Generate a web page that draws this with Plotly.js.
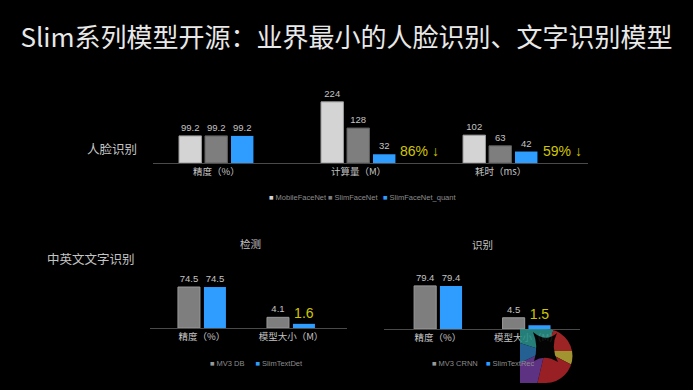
<!DOCTYPE html>
<html><head><meta charset="utf-8">
<script src="https://cdn.plot.ly/plotly-3.0.1.min.js"></script>
<style>html,body{margin:0;padding:0;background:#000;}#chart{width:693px;height:390px;}</style>
</head><body><div id="chart"></div>
<script>
// ---- data ----
const faceCats = ['精度（%）', '计算量（M）', '耗时（ms）'];
const faceSeries = ['MobileFaceNet', 'SlimFaceNet', 'SlimFaceNet_quant'];
const mobileFaceNet = [99.2, 224, 102];
const slimFaceNet = [99.2, 128, 63];
const slimFaceNetQuant = [99.2, 32, 42];
const faceReduction = ['86% ↓', '59% ↓'];

const textCats = ['精度（%）', '模型大小（M）'];
const detSeries = ['MV3 DB', 'SlimTextDet'];
const mv3Db = [74.5, 4.1];
const slimTextDet = [74.5, 1.6];
const recSeries = ['MV3 CRNN', 'SlimTextRec'];
const mv3Crnn = [79.4, 4.5];
const slimTextRec = [79.4, 1.5];

// ---- style ----
const FONT = 'Liberation Sans, Noto Sans CJK SC, sans-serif';
const CJK = 'Noto Sans CJK SC, Liberation Sans, sans-serif';
const LABEL = '#c4c4c4';
const YELLOW = '#d0c600';
const LIGHT = '#d4d4d4', GRAY = '#7e7e7e', BLUE = '#2f9dff';

const traces = [];
function bar(x, y, xa, ya, color, line, offset, width, tColor, tSize) {
  traces.push({
    type: 'bar', x: x, y: y, xaxis: xa, yaxis: ya,
    offset: offset, width: width, showlegend: false,
    marker: {color: color, line: {color: line, width: line ? 1 : 0}},
    text: y.map(v => String(v)), textposition: 'outside', cliponaxis: false,
    textfont: {family: FONT, size: tSize, color: tColor},
    hoverinfo: 'skip'
  });
}
function legendItem(name, color, xa, ya, legend, lw) {
  traces.push({
    type: 'scatter', mode: 'markers', x: [null], y: [null], xaxis: xa, yaxis: ya,
    name: '<span style="color:' + color + '">■</span> ' + name, legend: legend, showlegend: true,
    legendwidth: lw,
    marker: {symbol: 'square', size: 1, color: 'rgba(0,0,0,0)'}
  });
}

// top: face recognition
const faceColors = [LIGHT, GRAY, BLUE];
const faceLines = ['#9a9a9a', '#5e5e5e', null];
const faceData = [mobileFaceNet, slimFaceNet, slimFaceNetQuant];
const faceOffsets = [-0.264, -0.081, 0.102];
const faceLW = [14, 10, 90];
faceData.forEach((d, i) => {
  bar(faceCats, d, 'x', 'y', faceColors[i], faceLines[i], faceOffsets[i], 0.158, LABEL, 9.5);
  legendItem(faceSeries[i], faceColors[i], 'x', 'y', 'legend', faceLW[i]);
});

// bottom-left: detection (accuracy on y2, size on y3)
const txtOffsets = [-0.27, 0.022];
const detLW = [0.5, 80], recLW = [9, 80];
[mv3Db, slimTextDet].forEach((d, i) => {
  const c = i === 0 ? GRAY : BLUE, l = i === 0 ? '#9a9a9a' : null;
  bar([textCats[0]], [d[0]], 'x2', 'y2', c, l, txtOffsets[i], 0.247, LABEL, 9.5);
  bar([textCats[1]], [d[1]], 'x2', 'y3', c, l, txtOffsets[i], 0.247, i === 0 ? LABEL : YELLOW, i === 0 ? 9.5 : 14);
  legendItem(detSeries[i], i === 0 ? '#9a9a9a' : BLUE, 'x2', 'y2', 'legend2', detLW[i]);
});
// bottom-right: recognition (accuracy on y4, size on y5)
[mv3Crnn, slimTextRec].forEach((d, i) => {
  const c = i === 0 ? GRAY : BLUE, l = i === 0 ? '#9a9a9a' : null;
  bar([textCats[0]], [d[0]], 'x3', 'y4', c, l, txtOffsets[i], 0.25, LABEL, 9.5);
  bar([textCats[1]], [d[1]], 'x3', 'y5', c, l, txtOffsets[i], 0.25, i === 0 ? LABEL : YELLOW, i === 0 ? 9.5 : 14);
  legendItem(recSeries[i], i === 0 ? '#9a9a9a' : BLUE, 'x3', 'y4', 'legend3', recLW[i]);
});

const W = 693, H = 390;
const px = v => v / W, py = v => 1 - v / H;
function xax(dom, range, anchor, cats) {
  return {domain: dom, range: range, anchor: anchor, type: 'category',
    categoryorder: 'array', categoryarray: cats,
    showline: true, linecolor: '#4a4a4a', linewidth: 1, showgrid: false, zeroline: false,
    ticks: '', tickfont: {family: CJK, size: 9.5, color: LABEL}, fixedrange: true};
}
function yax(dom, range, overlay) {
  const a = {range: range, visible: false, showgrid: false, zeroline: false, fixedrange: true};
  if (overlay) { a.overlaying = overlay; } else { a.domain = dom; }
  return a;
}
const legBase = {orientation: 'h', xanchor: 'left', yanchor: 'middle', bgcolor: 'rgba(0,0,0,0)',
  entrywidthmode: 'pixels',
  font: {family: FONT, size: 7.5, color: '#8c8c8c'}, itemwidth: 30, itemclick: false, itemdoubleclick: false};

// decorative watermark logo (bottom-right corner of the slide)
const logoSvg = '<svg xmlns="http://www.w3.org/2000/svg" width="53" height="54" viewBox="0 0 53 54">' +
  '<defs><clipPath id="d"><path d="M0,0 L26,0 A26.5,27 0 0 1 26,54 L0,54 Z"/></clipPath></defs>' +
  '<g clip-path="url(#d)">' +
  '<polygon points="25,22 0,14 0,0 34,0" fill="#2b9189"/>' +
  '<polygon points="25,22 34,0 60,0 60,22" fill="#b32a2a"/>' +
  '<polygon points="25,22 60,22 60,40" fill="#b9a838"/>' +
  '<polygon points="25,22 60,40 60,60 16,60" fill="#ad2428"/>' +
  '<polygon points="25,22 16,60 0,60 0,34" fill="#6a3995"/>' +
  '<polygon points="25,22 0,34 0,14" fill="#2a6ea6"/>' +
  '<path d="M13,3 Q26,14 37,4 Q30,18 38,33 Q25,25 14,32 Q19,17 13,3 Z" fill="#050505"/>' +
  '</g></svg>';

const layout = {
  width: W, height: H, margin: {l: 0, r: 0, t: 0, b: 0},
  paper_bgcolor: '#000', plot_bgcolor: 'rgba(0,0,0,0)',
  barmode: 'overlay', showlegend: true,
  font: {family: FONT, color: LABEL},
  title: {text: 'Slim系列模型开源：业界最小的人脸识别、文字识别模型', x: 0.5, xanchor: 'center',
    y: py(38), yanchor: 'middle', xref: 'paper', yref: 'paper',
    font: {family: CJK, size: 26, color: '#e8e8e8'}},
  xaxis: xax([px(153), px(588)], [-0.447, 2.616], 'y', faceCats),
  yaxis: yax([py(163), py(80)], [0, 83 / 0.273]),
  xaxis2: xax([px(150), px(347)], [-0.584, 1.629], 'y2', textCats),
  yaxis2: yax([py(328), py(260)], [0, 68 / 0.55]),
  yaxis3: yax(null, [0, 68 / 2.6], 'y2'),
  xaxis3: xax([px(384), px(580)], [-0.61, 1.605], 'y4', textCats),
  yaxis4: yax([py(329), py(261)], [0, 68 / 0.543]),
  yaxis5: yax(null, [0, 68 / 2.5], 'y4'),
  legend: Object.assign({}, legBase, {x: px(229), y: py(197)}),
  legend2: Object.assign({}, legBase, {x: px(170), y: py(363)}),
  legend3: Object.assign({}, legBase, {x: px(392), y: py(363)}),
  images: [{source: 'data:image/svg+xml;charset=utf-8,' + encodeURIComponent(logoSvg),
    xref: 'paper', yref: 'paper', x: px(520), y: py(329), sizex: 53 / W, sizey: 54 / H,
    xanchor: 'left', yanchor: 'top', sizing: 'stretch', layer: 'above', opacity: 0.88}],
  annotations: [
    {text: '人脸识别', xref: 'paper', yref: 'paper', x: px(112), y: py(148), xanchor: 'center', showarrow: false,
      font: {family: CJK, size: 12.5, color: LABEL}},
    {text: '中英文文字识别', xref: 'paper', yref: 'paper', x: px(91), y: py(270), xanchor: 'center', showarrow: false,
      font: {family: CJK, size: 12.5, color: LABEL}},
    {text: '检测', xref: 'x2 domain', yref: 'paper', x: 0.51, y: py(243), xanchor: 'center', showarrow: false,
      font: {family: CJK, size: 10.5, color: LABEL}},
    {text: '识别', xref: 'x3 domain', yref: 'paper', x: 0.5, y: py(244), xanchor: 'center', showarrow: false,
      font: {family: CJK, size: 10.5, color: LABEL}},
    {text: faceReduction[0], xref: 'x', yref: 'y', x: 1.433, y: 44, xanchor: 'center', showarrow: false,
      font: {family: FONT, size: 14, color: YELLOW}},
    {text: faceReduction[1], xref: 'x', yref: 'y', x: 2.433, y: 44, xanchor: 'center', showarrow: false,
      font: {family: FONT, size: 14, color: YELLOW}}
  ]
};
Plotly.newPlot('chart', traces, layout, {staticPlot: true, displayModeBar: false});
</script></body></html>
